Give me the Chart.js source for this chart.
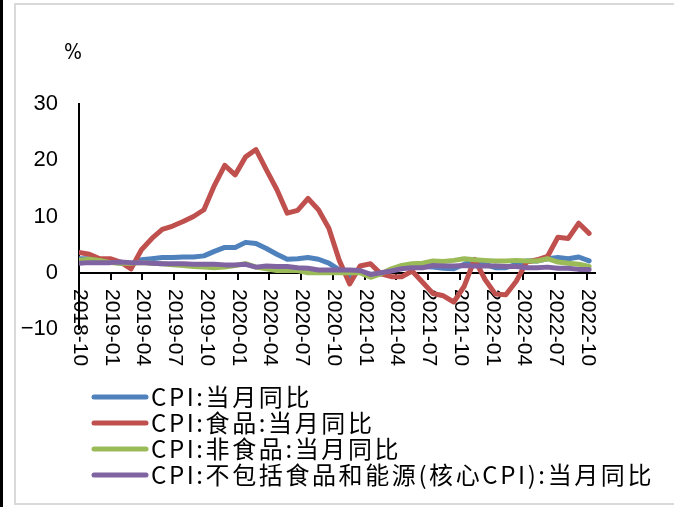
<!DOCTYPE html>
<html><head><meta charset="utf-8">
<script src="https://cdn.jsdelivr.net/npm/chart.js@4.4.0/dist/chart.umd.min.js"></script>
<style>html,body{margin:0;padding:0;background:#fff;}#wrap{width:674px;height:507px;}</style>
</head><body><div id="wrap"><canvas id="c" width="674" height="507"></canvas></div>
<script>
// Months of the series (Sep 2018 .. Oct 2022)
const months = ['2018-09','2018-10','2018-11','2018-12',
  '2019-01','2019-02','2019-03','2019-04','2019-05','2019-06','2019-07','2019-08','2019-09','2019-10','2019-11','2019-12',
  '2020-01','2020-02','2020-03','2020-04','2020-05','2020-06','2020-07','2020-08','2020-09','2020-10','2020-11','2020-12',
  '2021-01','2021-02','2021-03','2021-04','2021-05','2021-06','2021-07','2021-08','2021-09','2021-10','2021-11','2021-12',
  '2022-01','2022-02','2022-03','2022-04','2022-05','2022-06','2022-07','2022-08','2022-09','2022-10'];
const tickLabels = ['2018-10','2019-01','2019-04','2019-07','2019-10','2020-01','2020-04','2020-07','2020-10',
  '2021-01','2021-04','2021-07','2021-10','2022-01','2022-04','2022-07','2022-10'];
const yTicks = [-10, 0, 10, 20, 30];
const seriesNames = ['CPI:当月同比','CPI:食品:当月同比','CPI:非食品:当月同比','CPI:不包括食品和能源(核心CPI):当月同比'];
const cpi = [2.5,2.5,2.2,1.9, 1.7,1.5,2.3,2.5,2.7,2.7,2.8,2.8,3.0,3.8,4.5,4.5,
  5.4,5.2,4.3,3.3,2.4,2.5,2.7,2.4,1.7,0.5,-0.5,0.2,
  -0.3,-0.2,0.4,0.9,1.3,1.1,1.0,0.8,0.7,1.5,2.3,1.5,
  0.9,0.9,1.5,2.1,2.1,2.5,2.7,2.5,2.8,2.1];
const food = [3.6,3.3,2.5,2.5, 1.9,0.7,4.1,6.1,7.7,8.3,9.1,10.0,11.2,15.5,19.1,17.4,
  20.6,21.9,18.3,14.8,10.6,11.1,13.2,11.2,7.9,2.2,-2.0,1.2,
  1.6,-0.2,-0.7,-0.7,0.3,-1.7,-3.7,-4.1,-5.2,-2.4,2.4,-1.2,
  -3.8,-3.9,-1.5,1.9,2.3,2.9,6.3,6.1,8.8,7.0];
const nonFood = [2.2,2.4,2.2,1.8, 1.7,1.7,1.8,1.7,1.6,1.4,1.3,1.1,1.0,0.9,1.0,1.3,
  1.6,1.0,0.7,0.4,0.4,0.4,0.0,0.0,0.0,0.0,0.0,0.0,
  -0.8,-0.2,0.7,1.3,1.6,1.7,2.1,2.0,2.2,2.5,2.3,2.2,
  2.1,2.1,2.2,2.1,2.1,2.5,1.9,1.7,1.5,1.1];
const core = [1.7,1.8,1.8,1.8, 1.9,1.8,1.8,1.7,1.6,1.6,1.6,1.5,1.5,1.5,1.4,1.4,
  1.5,1.0,1.2,1.1,1.1,0.9,0.8,0.5,0.5,0.5,0.5,0.4,
  -0.3,0.0,0.3,0.7,0.9,0.9,1.3,1.2,1.2,1.3,1.2,1.2,
  1.2,1.1,1.1,0.9,0.9,1.0,0.8,0.8,0.6,0.6];

const colors = ['#4F81BD','#C0504D','#9BBB59','#8064A2'];
const seriesValues = [cpi, food, nonFood, core];

const datasets = seriesValues.map((vals, s) => ({
  label: seriesNames[s],
  data: vals.map((v, i) => ({x: i, y: v})),
  borderColor: colors[s],
  backgroundColor: colors[s],
  borderWidth: 5,
  pointRadius: 0,
  tension: 0,
  fill: false,
  borderJoinStyle: 'round',
  borderCapStyle: 'round',
  order: 4 - s,
  xAxisID: 'x', yAxisID: 'y'
}));

const decor = {
  id: 'decor',
  beforeDraw(chart) {
    const ctx = chart.ctx;
    ctx.save();
    ctx.fillStyle = '#fff';
    ctx.fillRect(0, 0, chart.width, chart.height);
    ctx.fillStyle = '#000';
    ctx.fillRect(0, 0, 3, chart.height);
    ctx.strokeStyle = '#d9d9d9';
    ctx.lineWidth = 2;
    ctx.strokeRect(15, 4, chart.width + 10, 500);
    ctx.restore();
  },
  beforeDatasetsDraw(chart) {
    const ctx = chart.ctx;
    const y = chart.scales.y, xt = chart.scales.xt, area = chart.chartArea;
    const y0 = Math.round(y.getPixelForValue(0));
    ctx.save();
    ctx.strokeStyle = '#000';
    ctx.lineWidth = 2;
    ctx.beginPath();
    ctx.moveTo(area.left, y0);
    ctx.lineTo(area.right, y0);
    ctx.stroke();
    ctx.fillStyle = '#000';
    ctx.font = '21px "Liberation Sans", Arial, sans-serif';
    ctx.textAlign = 'left';
    ctx.textBaseline = 'middle';
    tickLabels.forEach((lab, k) => {
      const px = Math.round(xt.getPixelForValue(k * 3));
      ctx.beginPath();
      ctx.moveTo(px, y0);
      ctx.lineTo(px, y0 + 7);
      ctx.stroke();
      ctx.save();
      ctx.translate(px + 1, y0 + 16);
      ctx.rotate(Math.PI / 2);
      ctx.fillText(lab, 0, 0);
      ctx.restore();
    });
    ctx.textAlign = 'center';
    ctx.font = '21px "Liberation Sans Narrow", "DejaVu Sans Condensed", "Liberation Sans", sans-serif';
    ctx.fillText('%', 73, 54);
    ctx.restore();
  },
  afterDraw(chart) {
    const ctx = chart.ctx;
    const top = chart.chartArea.bottom + 68;
    ctx.save();
    ctx.font = '24px "Noto Sans CJK SC", sans-serif';
    if ('letterSpacing' in ctx) ctx.letterSpacing = '2.6px';
    ctx.textAlign = 'left';
    ctx.textBaseline = 'middle';
    ctx.fillStyle = '#000';
    chart.data.datasets.forEach((ds, i) => {
      const ry = top + i * 26;
      ctx.strokeStyle = ds.borderColor;
      ctx.lineWidth = 5;
      ctx.lineCap = 'round';
      ctx.beginPath();
      ctx.moveTo(94, ry);
      ctx.lineTo(146, ry);
      ctx.stroke();
      ctx.fillText(ds.label, 151, ry);
    });
    ctx.restore();
  }
};

new Chart(document.getElementById('c'), {
  type: 'line',
  data: { datasets },
  options: {
    responsive: false,
    animation: false,
    devicePixelRatio: 1,
    layout: { padding: { left: 0, right: 78, top: 104, bottom: 178 } },
    plugins: { legend: { display: false }, tooltip: { enabled: false } },
    scales: {
      x: { type: 'linear', axis: 'x', position: 'bottom', min: 0, max: 49.66, display: false },
      xt: { type: 'linear', axis: 'x', position: 'bottom', min: 0, max: 48.87, display: false },
      y: {
        type: 'linear', position: 'left', min: -10, max: 30,
        afterBuildTicks: s => { s.ticks = yTicks.map(v => ({ value: v })); },
        afterFit: s => { s.width = 79; },
        grid: { display: false, drawTicks: false },
        border: { display: true, color: '#000', width: 2 },
        ticks: {
          color: '#000', padding: 21,
          font: { family: '"Liberation Sans", Arial, sans-serif', size: 22 },
          callback: v => String(v).replace('-', '\u2212')
        }
      }
    }
  },
  plugins: [decor]
});
</script>
</body></html>
